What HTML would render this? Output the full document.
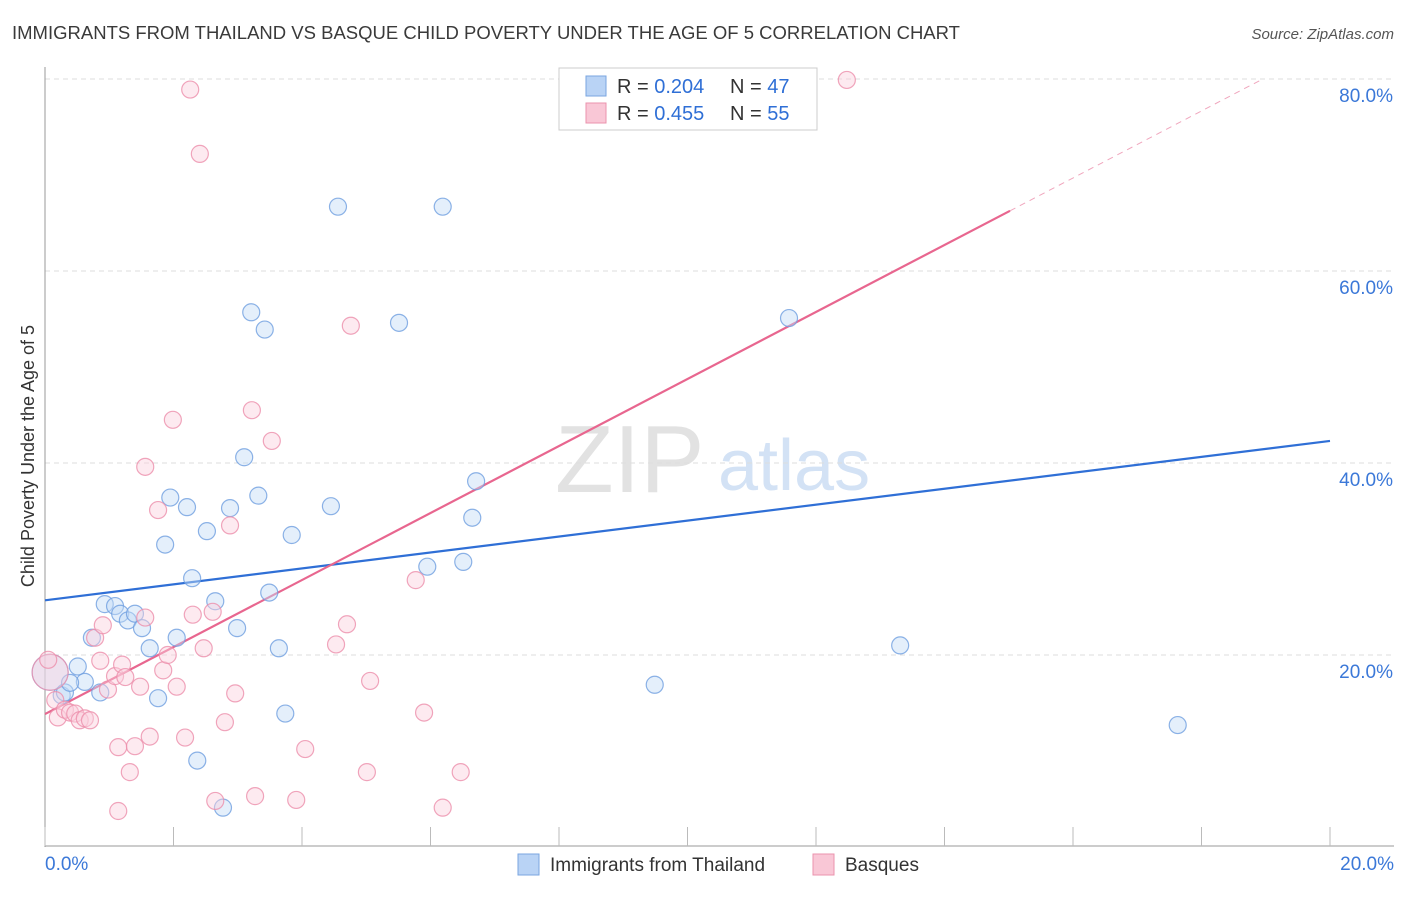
<!DOCTYPE html>
<html><head><meta charset="utf-8">
<style>
body{margin:0;background:#fff;font-family:"Liberation Sans",sans-serif;}
svg text{font-family:"Liberation Sans",sans-serif;}
</style></head>
<body>
<svg id="chart" width="1406" height="892" xmlns="http://www.w3.org/2000/svg">
<text x="12" y="39" font-size="18" fill="#3a3a3a" textLength="948" lengthAdjust="spacingAndGlyphs">IMMIGRANTS FROM THAILAND VS BASQUE CHILD POVERTY UNDER THE AGE OF 5 CORRELATION CHART</text>
<text x="1394" y="39" font-size="15" fill="#555" font-style="italic" text-anchor="end">Source: ZipAtlas.com</text>
<text transform="translate(34,456) rotate(-90)" font-size="18" fill="#333" text-anchor="middle">Child Poverty Under the Age of 5</text>
<g>
<text x="555" y="492" font-size="96" fill="#e2e2e2" font-family="Liberation Serif">ZIP</text>
<text x="718" y="490" font-size="72" fill="#d3e2f5">atlas</text>
</g>
<g id="grid"></g><g id="axes"></g><g id="lines"></g><g id="pts"></g>
<g>
<rect x="559" y="68" width="258" height="62" fill="#fff" stroke="#ccc"/>
<rect x="586" y="76" width="20" height="20" fill="#b9d3f5" stroke="#7aa6e0"/>
<text x="617" y="93" font-size="20" fill="#333">R = <tspan fill="#2f6fd6">0.204</tspan></text>
<text x="730" y="93" font-size="20" fill="#333">N = <tspan fill="#2f6fd6">47</tspan></text>
<rect x="586" y="103" width="20" height="20" fill="#f9c7d6" stroke="#eb93ad"/>
<text x="617" y="120" font-size="20" fill="#333">R = <tspan fill="#2f6fd6">0.455</tspan></text>
<text x="730" y="120" font-size="20" fill="#333">N = <tspan fill="#2f6fd6">55</tspan></text>
</g>
<g>
<rect x="518" y="854" width="21" height="21" fill="#b9d3f5" stroke="#7aa6e0"/>
<text x="550" y="871" font-size="19" fill="#333">Immigrants from Thailand</text>
<rect x="813" y="854" width="21" height="21" fill="#f9c7d6" stroke="#eb93ad"/>
<text x="845" y="871" font-size="19" fill="#333">Basques</text>
</g>
</svg>
<script>
const blueX=[0.08,0.26,0.31,0.51,0.62,0.39,0.86,0.73,0.93,1.09,1.17,1.29,1.40,1.51,1.63,1.76,1.87,1.95,2.05,2.21,2.29,2.37,2.52,2.65,2.77,2.88,2.99,3.10,3.21,3.32,3.42,3.49,3.64,3.74,3.84,4.45,4.56,5.51,5.95,6.19,6.51,6.65,6.71,9.49,11.58,13.31,17.63];
const blueY=[18.2,15.8,16.1,18.8,17.2,17.1,16.1,21.8,25.3,25.1,24.3,23.6,24.3,22.8,20.7,15.5,31.5,36.4,21.8,35.4,28.0,9.0,32.9,25.6,4.1,35.3,22.8,40.6,55.7,36.6,53.9,26.5,20.7,13.9,32.5,35.5,66.7,54.6,29.2,66.7,29.7,34.3,38.1,16.9,55.1,21.0,12.7];
const pinkX=[0.08,0.16,0.2,0.31,0.39,0.47,0.54,0.62,0.70,0.78,0.86,0.9,0.98,1.09,1.14,1.2,1.25,1.32,1.4,1.48,1.56,1.63,1.76,1.84,1.91,1.99,2.05,2.18,2.26,2.3,2.41,2.47,2.61,2.65,2.8,2.88,2.96,3.22,3.27,3.53,3.91,4.05,4.53,4.7,4.76,5.01,5.06,5.77,5.9,6.19,6.47,12.48,1.14,0.05,1.56];
const pinkY=[18.2,15.3,13.5,14.3,14.0,13.9,13.2,13.4,13.2,21.8,19.4,23.1,16.4,17.8,10.4,19.0,17.7,7.8,10.5,16.7,23.9,11.5,35.1,18.4,20.0,44.5,16.7,11.4,78.9,24.2,72.2,20.7,24.5,4.8,13.0,33.5,16.0,45.5,5.3,42.3,4.9,10.2,21.1,23.2,54.3,7.8,17.3,27.8,14.0,4.1,7.8,79.9,3.75,19.5,39.6];
const yTicks=[20,40,60,80];
const yTickLabels=["20.0%","40.0%","60.0%","80.0%"];
const xTickLabels=["0.0%","20.0%"];
const blueTrend=[25.7,42.3];
const pinkTrend=[13.85,3.49];
const NS="http://www.w3.org/2000/svg";
const sx=v=>45+v*64.25, sy=v=>847-v*9.6;
function mk(t,a,p){const e=document.createElementNS(NS,t);for(const k in a)e.setAttribute(k,a[k]);document.getElementById(p).appendChild(e);return e;}
yTicks.forEach((t,i)=>{
 const g=mk('line',{x1:45,x2:1394,y1:sy(t),y2:sy(t),stroke:'#ddd','stroke-dasharray':'5,4'},'grid');
 
 
 const l=mk('text',{x:1393,y:sy(t)+23,'font-size':19,fill:'#3b78d8','text-anchor':'end'},'axes');
 l.textContent=yTickLabels[i];
 
 
});
const ya=mk('line',{x1:45,x2:45,y1:67,y2:847,stroke:'#999'},'axes');


const xa=mk('line',{x1:45,x2:1394,y1:846,y2:846,stroke:'#999'},'axes');


for(let i=0;i<=10;i++){const t=mk('line',{x1:sx(i*2),x2:sx(i*2),y1:827,y2:846,stroke:'#bbb'},'axes');
 
 }
[[0,'start'],[20,'end']].forEach(([v,a],i)=>{const l=mk('text',{x:i?1394:45,y:870,'font-size':19,fill:'#3b78d8','text-anchor':a},'axes');l.textContent=xTickLabels[i];
 
 });
function pts(X,Y,fill,stroke,name){X.forEach((x,i)=>{const c=mk('circle',{cx:sx(x),cy:sy(Y[i]),r:i==0?18:8.5,fill:fill,'fill-opacity':0.45,stroke:stroke,'stroke-opacity':0.8,'stroke-width':1.2},'pts');
 
 });}
pts(blueX,blueY,'#c4dbf7','#6f9fe0','thailand-point');
pts(pinkX,pinkY,'#fbd0dd','#ec8fab','basque-point');
const bl=mk('line',{x1:sx(0),y1:sy(blueTrend[0]),x2:sx(20),y2:sy(blueTrend[1]),stroke:'#2f6fd6','stroke-width':2.2},'lines');


const pe=15.02;
const pl=mk('line',{x1:sx(0),y1:sy(pinkTrend[0]),x2:sx(pe),y2:sy(pinkTrend[0]+pinkTrend[1]*pe),stroke:'#e8668f','stroke-width':2.2},'lines');


const xe=(80-pinkTrend[0])/pinkTrend[1];
const pd=mk('line',{x1:sx(pe),y1:sy(pinkTrend[0]+pinkTrend[1]*pe),x2:sx(xe),y2:sy(80),stroke:'#f0a6bd','stroke-width':1,'stroke-dasharray':'6,5'},'lines');


</script>
</body></html>
